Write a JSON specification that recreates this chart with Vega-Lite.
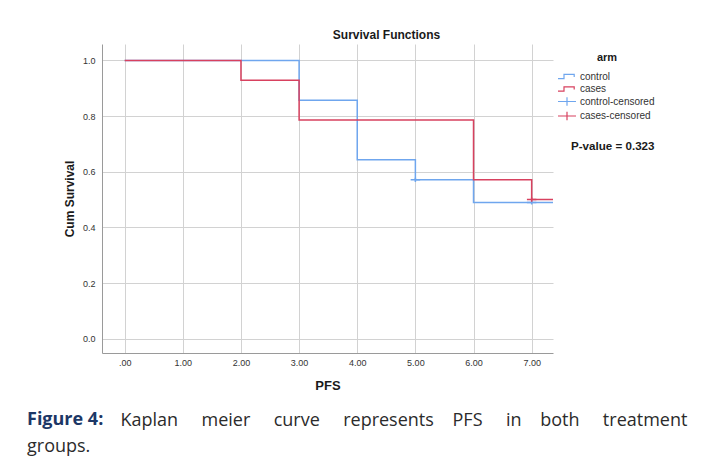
{
  "$schema": "https://vega.github.io/schema/vega-lite/v6.json",
  "background": "white",
  "padding": {"left": 27, "top": 29, "right": 5, "bottom": 5},
  "config": {
    "font": "Liberation Sans",
    "view": {"stroke": null},
    "concat": {"spacing": 0}
  },
  "datasets": {
    "km": [
      {"PFS": 0, "surv": 1.0, "arm": "control"},
      {"PFS": 3, "surv": 0.857, "arm": "control"},
      {"PFS": 4, "surv": 0.643, "arm": "control"},
      {"PFS": 5, "surv": 0.571, "arm": "control"},
      {"PFS": 6, "surv": 0.49, "arm": "control"},
      {"PFS": 7.367, "surv": 0.49, "arm": "control"},
      {"PFS": 0, "surv": 1.0, "arm": "cases"},
      {"PFS": 2, "surv": 0.929, "arm": "cases"},
      {"PFS": 3, "surv": 0.786, "arm": "cases"},
      {"PFS": 6, "surv": 0.571, "arm": "cases"},
      {"PFS": 7, "surv": 0.5, "arm": "cases"},
      {"PFS": 7.367, "surv": 0.5, "arm": "cases"}
    ],
    "cens": [
      {"PFS": 5, "surv": 0.571, "arm": "control-censored"},
      {"PFS": 7, "surv": 0.49, "arm": "control-censored"},
      {"PFS": 7, "surv": 0.5, "arm": "cases-censored"}
    ],
    "note": [{"label": "P-value = 0.323"}]
  },
  "vconcat": [
    {
      "vconcat": [
        {
          "vconcat": [
            {
              "width": 451,
              "height": 309,
              "title": {
                "text": "Survival Functions",
                "fontSize": 12,
                "fontWeight": "bold",
                "color": "#1a1a1a",
                "anchor": "middle",
                "frame": "group",
                "dx": 59,
                "offset": 2
              },
              "layer": [
                {
                  "data": {"name": "km"},
                  "mark": {"type": "line", "interpolate": "step-after", "strokeWidth": 1.5},
                  "encoding": {
                    "x": {
                      "field": "PFS",
                      "type": "quantitative",
                      "scale": {"domain": [-0.39, 7.367], "nice": false, "zero": false},
                      "axis": {
                        "title": "PFS",
                        "values": [0, 1, 2, 3, 4, 5, 6, 7],
                        "labelExpr": "datum.value == 0 ? '.00' : format(datum.value, '.2f')",
                        "labelFontSize": 9,
                        "labelColor": "#333333",
                        "labelPadding": 5,
                        "ticks": false,
                        "domainColor": "#9a9a9a",
                        "gridColor": "#d2d2d2",
                        "titleFontSize": 13,
                        "titleFontWeight": "bold",
                        "titleColor": "#1a1a1a",
                        "titlePadding": 12
                      }
                    },
                    "y": {
                      "field": "surv",
                      "type": "quantitative",
                      "scale": {"domain": [-0.051, 1.059], "nice": false, "zero": false},
                      "axis": {
                        "title": "Cum Survival",
                        "values": [0, 0.2, 0.4, 0.6, 0.8, 1.0],
                        "format": ".1f",
                        "labelFontSize": 9,
                        "labelColor": "#333333",
                        "labelPadding": 7,
                        "ticks": false,
                        "domainColor": "#9a9a9a",
                        "gridColor": "#d2d2d2",
                        "titleFontSize": 12,
                        "titleFontWeight": "bold",
                        "titleColor": "#1a1a1a",
                        "titlePadding": 6
                      }
                    },
                    "color": {
                      "field": "arm",
                      "type": "nominal",
                      "sort": ["control", "cases", "control-censored", "cases-censored"],
                      "scale": {
                        "domain": ["control", "cases", "control-censored", "cases-censored"],
                        "range": ["#6fa6ee", "#d8415f", "#6fa6ee", "#d8415f"]
                      },
                      "legend": {
                        "title": "arm",
                        "orient": "none",
                        "legendX": 458,
                        "legendY": 8,
                        "padding": 0,
                        "titleFontSize": 11,
                        "titleFontWeight": "bold",
                        "titleColor": "#1a1a1a",
                        "titleAnchor": "middle",
                        "titlePadding": 6.5,
                        "labelFontSize": 10,
                        "labelColor": "#333333",
                        "labelOffset": 6,
                        "symbolSize": 144,
                        "symbolStrokeWidth": 1.2,
                        "rowPadding": 0.5
                      }
                    },
                    "order": {"field": "PFS", "type": "quantitative"}
                  }
                },
                {
                  "data": {"name": "cens"},
                  "mark": {"type": "point", "filled": false, "strokeWidth": 1.5, "size": 40, "opacity": 1},
                  "encoding": {
                    "x": {"field": "PFS", "type": "quantitative"},
                    "y": {"field": "surv", "type": "quantitative"},
                    "color": {"field": "arm", "type": "nominal", "legend": {"title": "arm"}},
                    "shape": {
                      "field": "arm",
                      "type": "nominal",
                      "scale": {
                        "domain": ["control", "cases", "control-censored", "cases-censored"],
                        "range": [
                          "M-1.5,0.35H-0.5V-0.35H1.2V0.1",
                          "M-1.5,0.35H-0.5V-0.35H1.2V0.1",
                          "M-1.5,0H1.5M0,-0.7V0.7",
                          "M-1.5,0H1.5M0,-0.7V0.7"
                        ]
                      },
                      "legend": {"title": "arm"}
                    }
                  }
                },
                {
                  "data": {"name": "note"},
                  "mark": {"type": "text", "align": "left", "baseline": "middle", "fontSize": 11.6, "fontWeight": "bold", "color": "#1a1a1a"},
                  "encoding": {
                    "x": {"datum": 7.677},
                    "y": {"datum": 0.69},
                    "text": {"field": "label"}
                  }
                }
              ]
            }
          ],
          "title": {
            "text": "Figure 4:",
            "orient": "bottom",
            "anchor": "start",
            "frame": "group",
            "font": "Open Sans",
            "fontSize": 18,
            "fontWeight": "bold",
            "color": "#1c3766",
            "offset": 19,
            "dx": -75
          }
        }
      ],
      "title": {
        "text": ["\u200b\u00a0\u00a0\u00a0\u00a0\u00a0\u00a0\u00a0\u00a0\u00a0\u00a0\u00a0\u00a0\u00a0\u00a0\u00a0\u00a0\u00a0\u00a0\u00a0\u00a0Kaplan\u00a0\u00a0\u00a0\u00a0\u00a0meier\u00a0\u00a0\u00a0\u00a0\u00a0curve\u00a0\u00a0\u00a0\u00a0\u00a0represents\u00a0\u00a0\u00a0\u00a0PFS\u00a0\u00a0\u00a0\u00a0\u00a0in\u00a0\u00a0\u00a0\u00a0both\u00a0\u00a0\u00a0\u00a0\u00a0treatment", "groups."],
        "orient": "bottom",
        "anchor": "start",
        "frame": "group",
        "font": "Open Sans",
        "fontSize": 18,
        "fontWeight": "normal",
        "color": "#2b2b2b",
        "lineHeight": 26,
        "offset": -17,
        "dx": -75
      }
    }
  ]
}
